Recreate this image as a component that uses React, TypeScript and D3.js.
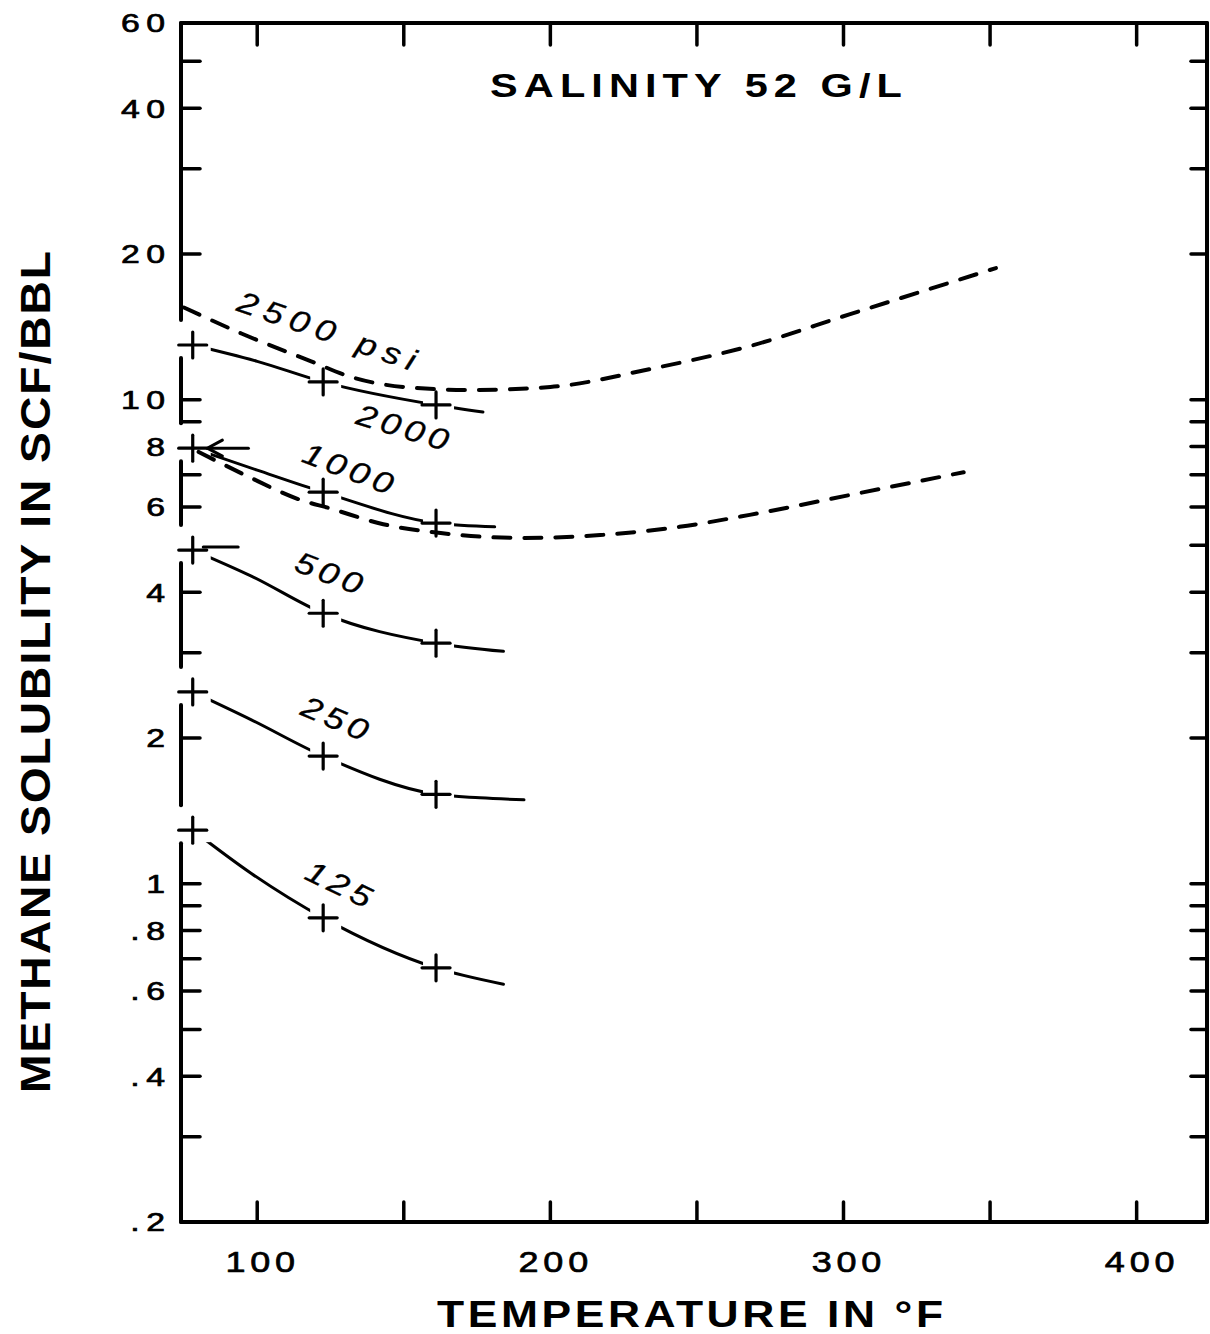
import React from 'react';
import * as d3 from 'd3';

const W = 1210;
const H = 1334;

// ---- axis data ----
const xDomain = [74, 424];
const yDomain = [0.2, 60];
const xTicks = [100, 150, 200, 250, 300, 350, 400];
const xTickLabels = [100, 200, 300, 400];
const yTicks = [50, 40, 30, 20, 10, 9, 8, 7, 6, 5, 4, 3, 2, 1, 0.9, 0.8, 0.7, 0.6, 0.5, 0.4, 0.3];
const yTickLabelValues = [60, 40, 20, 10, 8, 6, 4, 2, 1, 0.8, 0.6, 0.4, 0.2];
const yTickLabels = ['60', '40', '20', '10', '8', '6', '4', '2', '1', '.8', '.6', '.4', '.2'];

// ---- measured temperatures (°F) ----
const markerTemps = [78, 122.5, 161];

// ---- measured solubilities at markerTemps ----
const m125 = [1.29, 0.85, 0.67];
const m250 = [2.49, 1.835, 1.53];
const m500 = [4.89, 3.62, 3.14];
const m1000 = [7.94, 6.44, 5.56];
const m2000 = [12.97, 10.88, 9.75];

// ---- curves (temperature, solubility) ----
const c125T = [78, 98, 122.5, 161, 184];
const c125V = [1.29, 1.05, 0.85, 0.67, 0.62];
const c250T = [78, 98, 122.5, 161, 176, 191];
const c250V = [2.49, 2.18, 1.835, 1.53, 1.505, 1.49];
const c500T = [78, 98, 122.5, 161, 184];
const c500V = [4.89, 4.32, 3.62, 3.14, 3.02];
const c1000T = [78, 100, 122.5, 161, 181];
const c1000V = [7.94, 7.15, 6.44, 5.56, 5.46];
const c1000dT = [80, 96, 115, 124.5, 143, 162.6, 190, 217, 244, 268, 302, 341];
const c1000dV = [7.8, 6.98, 6.2, 5.97, 5.53, 5.3, 5.18, 5.25, 5.46, 5.78, 6.35, 7.08];
const c2000T = [78, 100, 122.5, 161, 177];
const c2000V = [12.97, 12.0, 10.88, 9.75, 9.43];
const c2500T = [75, 94.6, 118.4, 132, 150, 173, 200, 234, 268, 302, 352];
const c2500V = [15.5, 13.7, 12.0, 11.14, 10.62, 10.47, 10.62, 11.57, 12.9, 15.0, 18.7];

// ---- curve labels: text, anchor temperature, anchor solubility, rotation ----
const labelTexts = ['2500 psi', '2000', '1000', '500', '250', '125'];
const labelT = [123.8, 149.7, 131, 124.5, 126.6, 127.9];
const labelV = [13.9, 8.78, 7.22, 4.39, 2.2, 1.0];
const labelRot = [19, 17, 21, 21, 23, 26];
const labelSpacing = [6, 4, 4, 4, 4, 4];

// ---- annotations ----
const arrow1000 = { fromT: 97, toT: 83, v: 7.94 };
const dash500 = { fromT: 81.6, toT: 93.5, v: 4.96 };

const FONT = '"Liberation Sans", Arial, Helvetica, sans-serif';

type WTProps = {
  x: number;
  y: number;
  sx: number;
  anchor?: 'start' | 'middle' | 'end';
  size: number;
  weight?: string;
  italic?: boolean;
  ls?: number;
  rot?: number;
  thick?: number;
  dy?: string;
  children: React.ReactNode;
};

function WideText({ x, y, sx, anchor = 'start', size, weight = 'normal', italic, ls = 0, rot = 0, thick = 0, dy, children }: WTProps) {
  // letter-spacing is added after the last glyph too; compensate for anchoring
  const shift = anchor === 'end' ? ls : anchor === 'middle' ? ls / 2 : 0;
  return (
    <text
      transform={`translate(${x},${y}) rotate(${rot}) scale(${sx},1)`}
      x={shift}
      dy={dy}
      textAnchor={anchor}
      fontFamily={FONT}
      fontSize={size}
      fontWeight={weight}
      fontStyle={italic ? 'italic' : 'normal'}
      letterSpacing={ls}
      fill="#000"
      stroke={thick ? '#000' : 'none'}
      strokeWidth={thick}
    >
      {children}
    </text>
  );
}

export default function App() {
  const x = d3.scaleLinear().domain(xDomain).range([181, 1207]);
  const y = d3.scaleLog().domain(yDomain).range([1222, 23]);

  const line = d3
    .line<[number, number]>()
    .x((d) => x(d[0]))
    .y((d) => y(d[1]))
    .curve(d3.curveMonotoneX);

  const zip = (t: number[], v: number[]) => t.map((tt, i) => [tt, v[i]] as [number, number]);

  const solid = [zip(c125T, c125V), zip(c250T, c250V), zip(c500T, c500V), zip(c1000T, c1000V), zip(c2000T, c2000V)];
  const dashed = [zip(c1000dT, c1000dV), zip(c2500T, c2500V)];
  const markerSets = [m125, m250, m500, m1000, m2000];

  const left = x(xDomain[0]);
  const right = x(xDomain[1]);
  const top = y(yDomain[1]);
  const bottom = y(yDomain[0]);

  // left axis gaps around first markers
  const gaps = markerSets
    .map((m) => y(m[0]))
    .map((ym) => [ym - 25, ym + 13])
    .sort((a, b) => a[0] - b[0]);
  const leftSegs: [number, number][] = [];
  let cur = top;
  gaps.forEach(([g0, g1]) => {
    leftSegs.push([cur, g0]);
    cur = g1;
  });
  leftSegs.push([cur, bottom]);
  const inGap = (yy: number) => gaps.some(([g0, g1]) => yy > g0 && yy < g1);

  const stroke = '#000';

  return (
    <svg
      width={W}
      height={H}
      viewBox={`0 0 ${W} ${H}`}
      style={{ position: 'absolute', left: 0, top: 0, background: '#fff' }}
    >
      <defs>
        <mask id="markerGap" maskUnits="userSpaceOnUse" x={0} y={0} width={W} height={H}>
          <rect x={0} y={0} width={W} height={H} fill="#fff" />
          {markerSets.map((m, si) =>
            m.map((v, i) => (
              <rect
                key={'mk' + si + '-' + i}
                x={x(markerTemps[i]) - 13}
                y={y(v) - 12}
                width={31}
                height={24}
                fill="#000"
              />
            ))
          )}
        </mask>
      </defs>
      <rect x={0} y={0} width={W} height={H} fill="#fff" />

      {/* frame */}
      <g stroke={stroke} strokeWidth={4} strokeLinecap="round" fill="none">
        <line x1={left} y1={top} x2={right} y2={top} />
        <line x1={left} y1={bottom} x2={right} y2={bottom} />
        <line x1={right} y1={top} x2={right} y2={bottom} />
        {leftSegs.map(([a, b], i) => (
          <line key={i} x1={left} y1={a} x2={left} y2={b} />
        ))}
      </g>

      {/* ticks */}
      <g stroke={stroke} strokeWidth={3.5} strokeLinecap="round">
        {xTicks.map((t) => (
          <g key={'xt' + t}>
            <line x1={x(t)} y1={bottom} x2={x(t)} y2={bottom - 20} />
            <line x1={x(t)} y1={top} x2={x(t)} y2={top + 22} />
          </g>
        ))}
        {yTicks.map((v) => (
          <g key={'yt' + v}>
            {!inGap(y(v)) && <line x1={left} y1={y(v)} x2={left + 19} y2={y(v)} />}
            <line x1={right} y1={y(v)} x2={right - 16} y2={y(v)} />
          </g>
        ))}
      </g>

      {/* y tick labels */}
      {yTickLabelValues.map((v, i) => (
        <WideText key={'yl' + i} x={165} y={y(v)} dy="0.36em" sx={1.3} anchor="end" size={26} ls={5} thick={0.7}>
          {yTickLabels[i]}
        </WideText>
      ))}

      {/* x tick labels */}
      {xTickLabels.map((t) => (
        <WideText key={'xl' + t} x={x(t) + 3} y={1272} sx={1.2} anchor="middle" size={30} ls={4} thick={0.7}>
          {t}
        </WideText>
      ))}

      {/* axis titles */}
      <WideText x={690} y={1327} sx={1.2} anchor="middle" size={37} weight="bold" ls={3}>
        TEMPERATURE IN °F
      </WideText>
      <WideText x={50} y={672} rot={-90} sx={1.1} anchor="middle" size={42} weight="bold" ls={1.8}>
        METHANE SOLUBILITY IN SCF/BBL
      </WideText>
      <WideText x={696} y={97} sx={1.22} anchor="middle" size={34} weight="bold" ls={5}>
        SALINITY 52 G/L
      </WideText>

      {/* curves */}
      <g fill="none" stroke={stroke} strokeLinecap="round" strokeLinejoin="round">
        <g mask="url(#markerGap)">
          {solid.map((d, i) => (
            <path key={'s' + i} d={line(d) || ''} strokeWidth={3} />
          ))}
        </g>
        {dashed.map((d, i) => (
          <path key={'d' + i} d={line(d) || ''} strokeWidth={4} strokeDasharray="17 14" />
        ))}
      </g>

      {/* annotations */}
      <g stroke={stroke} strokeWidth={3} strokeLinecap="round" fill="none">
        <line x1={x(arrow1000.fromT)} y1={y(arrow1000.v)} x2={x(arrow1000.toT)} y2={y(arrow1000.v)} />
        <polyline
          points={`${x(arrow1000.toT) + 15},${y(arrow1000.v) - 8} ${x(arrow1000.toT)},${y(arrow1000.v)} ${
            x(arrow1000.toT) + 15
          },${y(arrow1000.v) + 8}`}
        />
        <line x1={x(dash500.fromT)} y1={y(dash500.v)} x2={x(dash500.toT)} y2={y(dash500.v)} />
      </g>

      {/* markers */}
      <g stroke={stroke} strokeWidth={3.2} strokeLinecap="round">
        {markerSets.map((m, si) =>
          m.map((v, i) => {
            const cx = x(markerTemps[i]);
            const cy = y(v);
            return (
              <g key={'m' + si + '-' + i}>
                <line x1={cx - 14} y1={cy} x2={cx + 14} y2={cy} />
                <line x1={cx} y1={cy - 13} x2={cx} y2={cy + 13} />
              </g>
            );
          })
        )}
      </g>

      {/* curve labels */}
      {labelTexts.map((s, i) => (
        <WideText
          key={'lab' + i}
          x={x(labelT[i])}
          y={y(labelV[i])}
          dy="0.36em"
          rot={labelRot[i]}
          sx={1.2}
          anchor="middle"
          size={30}
          italic
          ls={labelSpacing[i]}
          thick={0.3}
        >
          {s}
        </WideText>
      ))}
    </svg>
  );
}
